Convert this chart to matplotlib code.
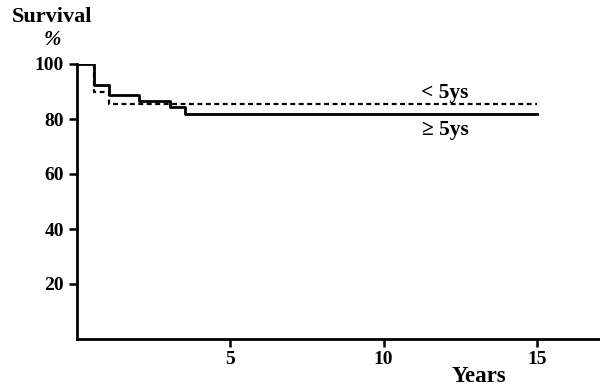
import matplotlib.pyplot as plt

# Kaplan-Meier style survival steps (years, % surviving)
years_ge5 = [0, 0.58, 1.07, 2.05, 3.05, 3.53, 15]
surv_ge5 = [100, 92.3, 88.6, 86.7, 84.2, 81.8, 81.8]
years_lt5 = [0, 0.58, 1.07, 15]
surv_lt5 = [100, 89.9, 85.5, 85.5]

y_ticks = [20, 40, 60, 80, 100]
x_ticks = [5, 10, 15]

plt.rcParams["font.family"] = ["Liberation Serif", "DejaVu Serif"]
plt.rcParams["font.weight"] = "bold"

W, H = 600, 389
fig = plt.figure(figsize=(W / 100, H / 100), dpi=100)
ax = fig.add_axes([76.5 / W, (H - 339) / H, 1 - 76.5 / W, (339 - 64) / H])

ax.step(years_ge5, surv_ge5, where="post", color="black", linewidth=2)
ax.step(years_lt5, surv_lt5, where="post", color="black", linewidth=1.6,
        linestyle=(0, (2.2, 1.6)))

ax.set_xlim(0, 17.05)
ax.set_ylim(0, 100)
ax.set_xticks(x_ticks)
ax.set_yticks(y_ticks)
ax.tick_params(direction="out", length=6, width=1.8, labelsize=14, pad=3)
for lab in ax.get_xticklabels() + ax.get_yticklabels():
    lab.set_fontweight("bold")

for side in ("top", "right"):
    ax.spines[side].set_visible(False)
for side in ("left", "bottom"):
    ax.spines[side].set_linewidth(2)

ax.text(12.0, 89.5, "< 5ys", ha="center", va="center", fontsize=15.5,
        fontweight="bold")
ax.text(12.0, 76, "≥ 5ys", ha="center", va="center", fontsize=15.5,
        fontweight="bold")

fig.text(12 / W, 1 - 17 / H, "Survival", ha="left", va="center",
         fontsize=16, fontweight="bold")
fig.text(52 / W, 1 - 40 / H, "%", ha="center", va="center",
         fontsize=15, fontweight="bold", style="italic")
fig.text(479 / W, 1 - 376 / H, "Years", ha="center", va="center",
         fontsize=16.5, fontweight="bold")

fig.savefig("out.png", dpi=100)
